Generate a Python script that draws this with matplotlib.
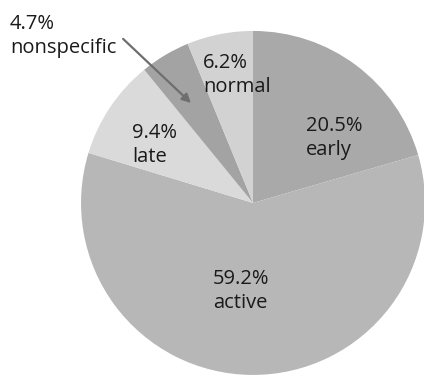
import matplotlib.pyplot as plt

plt.rcParams['font.family'] = ['Open Sans', 'DejaVu Sans']

# 各类别占比（%）
labels = ['early', 'active', 'late', 'nonspecific', 'normal']
values = [20.5, 59.2, 9.4, 4.7, 6.2]
colors = ['#a9a9a9', '#b7b7b7', '#dadada', '#a3a3a3', '#d2d2d2']

# 标签左端位置（以饼图半径为单位）
label_pos = [(0.308, 0.378), (-0.233, -0.512), (-0.703, 0.337), None, (-0.291, 0.744)]

fig = plt.figure(figsize=(4.24, 3.77), dpi=100)
ax = fig.add_axes([0, 0, 1, 1])

ax.pie(values, colors=colors, startangle=90, counterclock=False,
       wedgeprops=dict(linewidth=0))

for lab, val, pos in zip(labels, values, label_pos):
    if pos is None:
        continue
    ax.text(pos[0], pos[1], f'{val}%\n{lab}', ha='left', va='center',
            fontsize=14.5, color='#1a1a1a', linespacing=1.3)

# nonspecific 标签放在饼图外，用箭头指向
ax.text(-1.413, 0.971, f'{values[3]}%\n{labels[3]}', ha='left', va='center',
        fontsize=14.5, color='#1a1a1a', linespacing=1.3)
ax.annotate('', xy=(-0.349, 0.570), xytext=(-0.767, 0.965),
            arrowprops=dict(arrowstyle='-|>', color='#6e6e6e', lw=1.6, mutation_scale=13))

ax.set_xlim(-1.471, 0.994)
ax.set_ylim(-1.012, 1.180)
ax.set_aspect('equal')
ax.axis('off')

fig.savefig('out.png', dpi=100)
